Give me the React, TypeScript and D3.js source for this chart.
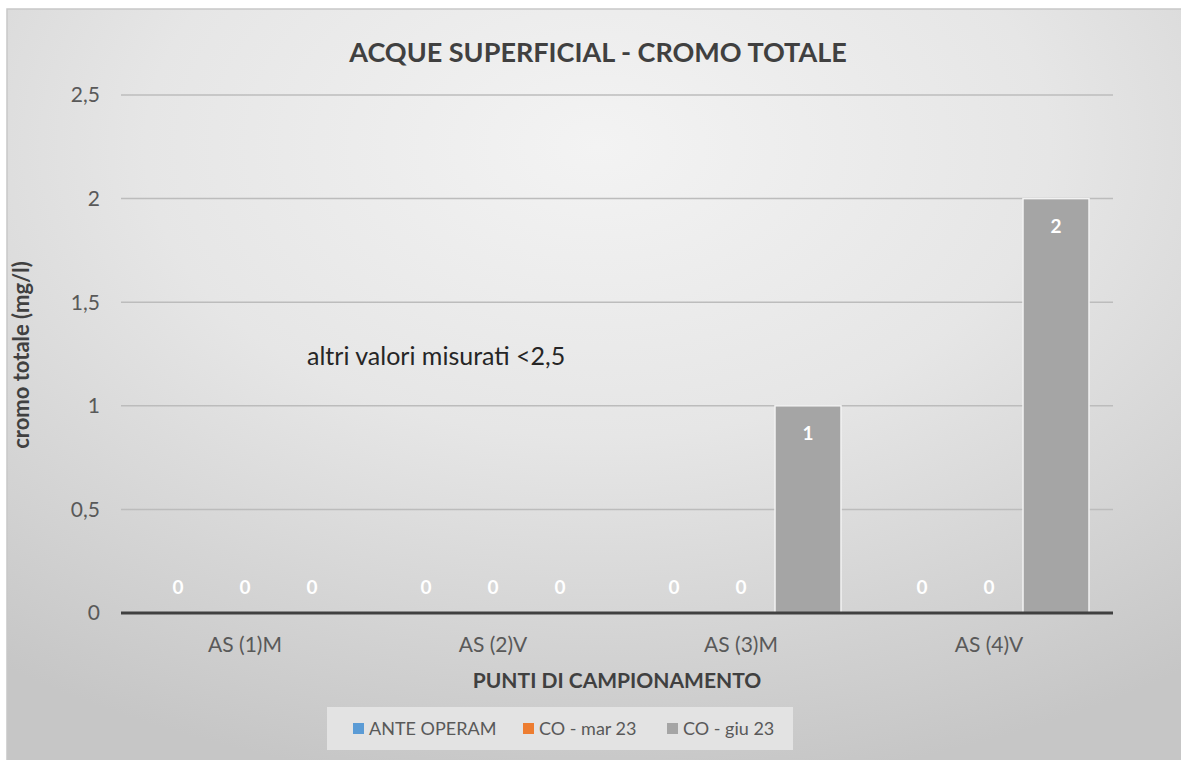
import React from "react";
import * as d3 from "d3";

const categories = ["AS (1)M", "AS (2)V", "AS (3)M", "AS (4)V"];
const seriesNames = ["ANTE OPERAM", "CO - mar 23", "CO - giu 23"];
const anteOperam = [0, 0, 0, 0];
const coMar23 = [0, 0, 0, 0];
const coGiu23 = [0, 0, 1, 2];
const seriesColors = ["#5b9bd5", "#ed7d31", "#a5a5a5"];
const yTicks = [0, 0.5, 1, 1.5, 2, 2.5];

const W = 1181;
const H = 760;
const FONT = "Lato, 'Open Sans', sans-serif";

export default function App() {
  const plot = { left: 121, right: 1113, top: 95, bottom: 613 };
  const x = d3.scaleBand<string>().domain(categories).range([plot.left, plot.right]).padding(0);
  const y = d3.scaleLinear().domain([0, 2.5]).range([plot.bottom, plot.top]);
  const inner = d3
    .scaleBand<string>()
    .domain(seriesNames)
    .range([-100.5, 100.5])
    .padding(0);
  const allSeries = [anteOperam, coMar23, coGiu23];
  const fmt = (v: number) => String(v).replace(".", ",");
  const legendSquareX = [353, 523, 667];

  return (
    <svg
      width={W}
      height={H}
      style={{ position: "absolute", left: 0, top: 0, fontFamily: FONT }}
    >
      <defs>
        <radialGradient id="bg" cx="50%" cy="18%" r="85%" fx="50%" fy="18%">
          <stop offset="0%" stopColor="#f3f3f3" />
          <stop offset="45%" stopColor="#e6e6e6" />
          <stop offset="100%" stopColor="#c6c6c6" />
        </radialGradient>
      </defs>
      <rect x={0} y={0} width={W} height={H} fill="#ffffff" />
      <rect x={7} y={9} width={W} height={H} fill="url(#bg)" stroke="#c8c8c8" strokeWidth={1.5} />

      {/* title */}
      <text x={598} y={62} textAnchor="middle" fontSize={27} fontWeight="bold" fill="#404040">
        ACQUE SUPERFICIAL - CROMO TOTALE
      </text>

      {/* gridlines */}
      {yTicks.filter((t) => t > 0).map((t) => (
        <line
          key={"g" + t}
          x1={plot.left}
          x2={plot.right}
          y1={y(t)}
          y2={y(t)}
          stroke="#bcbcbc"
          strokeWidth={1.5}
        />
      ))}

      {/* y tick labels */}
      {yTicks.map((t) => (
        <text
          key={"yt" + t}
          x={100}
          y={y(t)}
          dy="0.35em"
          textAnchor="end"
          fontSize={21}
          fill="#595959"
        >
          {fmt(t)}
        </text>
      ))}

      {/* bars */}
      {categories.map((c, ci) =>
        seriesNames.map((s, si) => {
          const v = allSeries[si][ci];
          const cx = (x(c) as number) + x.bandwidth() / 2;
          const bx = cx + (inner(s) as number);
          const bw = inner.bandwidth() - 1;
          const top = y(v);
          const h = y(0) - top;
          return (
            <g key={c + s}>
              {h > 0 && (
                <rect
                  x={bx + 0.5}
                  y={top}
                  width={bw}
                  height={h}
                  fill={seriesColors[si]}
                  stroke="#f2f2f2"
                  strokeWidth={1.5}
                />
              )}
              <text
                x={bx + inner.bandwidth() / 2}
                y={v === 0 ? y(0) - 26 : top + 28}
                dy="0.35em"
                textAnchor="middle"
                fontSize={19}
                fontWeight="bold"
                fill="#ffffff"
              >
                {fmt(v)}
              </text>
            </g>
          );
        })
      )}

      {/* x axis line */}
      <line x1={plot.left} x2={plot.right} y1={y(0)} y2={y(0)} stroke="#404040" strokeWidth={3} />

      {/* x labels */}
      {categories.map((c) => (
        <text
          key={"xl" + c}
          x={(x(c) as number) + x.bandwidth() / 2}
          y={645}
          dy="0.35em"
          textAnchor="middle"
          fontSize={21}
          fill="#595959"
        >
          {c}
        </text>
      ))}

      {/* axis titles */}
      <text
        x={(plot.left + plot.right) / 2}
        y={681}
        dy="0.35em"
        textAnchor="middle"
        fontSize={21}
        fontWeight="bold"
        fill="#404040"
      >
        PUNTI DI CAMPIONAMENTO
      </text>
      <text
        transform={`translate(21,355) rotate(-90)`}
        dy="0.35em"
        textAnchor="middle"
        fontSize={22}
        fontWeight="bold"
        fill="#404040"
      >
        cromo totale (mg/l)
      </text>

      {/* annotation */}
      <text x={307} y={365} fontSize={25} fill="#262626">
        altri valori misurati &lt;2,5
      </text>

      {/* legend */}
      <rect x={327} y={707} width={466} height={43} fill="#e3e3e3" />
      {seriesNames.map((s, i) => {
        const lx = legendSquareX[i];
        return (
          <g key={"lg" + s}>
            <rect x={lx} y={723} width={11} height={11} fill={seriesColors[i]} />
            <text x={lx + 16} y={729} dy="0.35em" fontSize={18} fill="#595959">
              {s}
            </text>
          </g>
        );
      })}
    </svg>
  );
}
